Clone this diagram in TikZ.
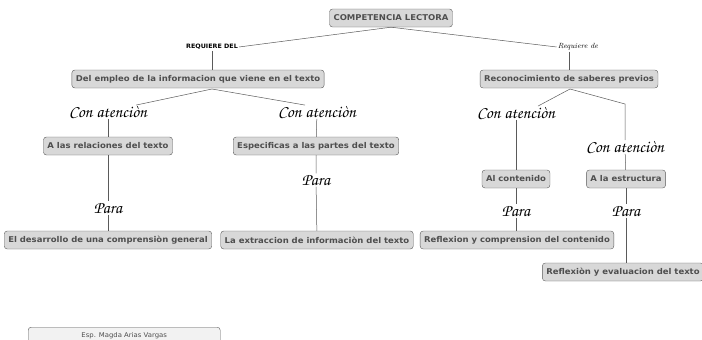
\documentclass[tikz,border=0pt]{standalone}
\usepackage{fontspec}
\setsansfont{DejaVu Sans}
\newfontfamily\largo[FakeStretch=1.06]{DejaVu Sans}
\usepackage{tikz}
\usetikzlibrary{positioning}
\definecolor{grigio}{HTML}{D8D8D8}
\definecolor{bordo}{HTML}{5A5A5A}
\definecolor{testo}{HTML}{4E4E4E}
% corsivo a mano per i connettori
\newcommand{\corsivo}{\fontencoding{T1}\fontfamily{pzc}\fontseries{m}\fontshape{it}\selectfont}

\begin{document}
\begin{tikzpicture}[
  x=1pt, y=-1pt,
  concetto/.style={
    rectangle, draw=bordo, fill=grigio, rounded corners=3pt,
    text=testo, font=\largo\bfseries\fontsize{8}{9}\selectfont,
    minimum height=18pt, inner xsep=4pt, inner ysep=2pt
  },
  legame/.style={font=\corsivo\fontsize{17}{18}\selectfont, inner sep=1pt},
  linea/.style={draw=bordo, line width=0.5pt}
]
\clip (0,0) rectangle (702,340);
% radice
\node[concetto] (radice) at (391,18) {COMPETENCIA LECTORA};
\node[font=\largo\bfseries\fontsize{6}{7}\selectfont, inner sep=1pt] (reqdel) at (212,47) {REQUIERE DEL};
\node[font=\itshape\fontsize{7.5}{8}\selectfont, inner sep=1pt] (reqde) at (578,47) {Requiere de};
% ramo sinistro
\node[concetto] (empleo) at (198,79) {Del empleo de la informacion que viene en el texto};
\node[legame] (ca1) at (108,112) {Con atenci\`on};
\node[legame] (ca2) at (317,112) {Con atenci\`on};
\node[concetto] (relaz) at (108,146) {A las relaciones del texto};
\node[concetto] (partes) at (316,146) {Especificas a las partes del texto};
\node[legame] (p1) at (108,208) {Para};
\node[legame] (p2) at (316,180) {Para};
\node[concetto] (desarr) at (108,240) {El desarrollo de una comprensi\`on general};
\node[concetto] (extrac) at (317,240) {La extraccion de informaci\`on del texto};
% ramo destro
\node[concetto] (saberes) at (569,79) {Reconocimiento de saberes previos};
\node[legame] (ca3) at (516,113) {Con atenci\`on};
\node[legame] (ca4) at (625,147) {Con atenci\`on};
\node[concetto] (conten) at (516,179) {Al contenido};
\node[concetto] (estruc) at (626,179) {A la estructura};
\node[legame] (p3) at (516,211) {Para};
\node[legame] (p4) at (626,211) {Para};
\node[concetto] (reflex) at (517,240) {Reflexion y comprension del contenido};
\node[concetto] (evalua) at (623,272) {Reflexi\`on y evaluacion del texto};
% firma
\node[draw=bordo, fill=gray!10, rounded corners=3pt, minimum width=192pt, minimum height=20pt,
  anchor=north west, font=\largo\fontsize{6.5}{7}\selectfont, text=testo, text depth=5pt] (firma) at (28,327) {Esp. Magda Arias Vargas};

\coordinate (a1) at (212,89);
\coordinate (a2) at (570,89);
\coordinate (k4) at (625,104);
\draw[linea] (radice.south) -- (reqdel.east);
\draw[linea] (radice.south) -- (reqde.west);
\draw[linea] (reqdel) -- (reqdel |- empleo.north);
\draw[linea] (reqde.south -| saberes.north) -- (saberes.north);
\draw[linea] (a1) -- ([xshift=-12pt]ca1.north east);
\draw[linea] (a1) -- ([xshift=-12pt]ca2.north);
\draw[linea] (ca1) -- (relaz);
\draw[linea] (ca2) -- (partes);
\draw[linea] (relaz) -- (p1) -- (desarr);
\draw[linea] (partes) -- (p2) -- (extrac);
\draw[linea] (a2) -- ([xshift=22pt]ca3.north);
\draw[linea] (a2) -- (k4) -- (ca4);
\draw[linea] (ca3) -- (conten);
\draw[linea] (ca4) -- (estruc);
\draw[linea] (conten) -- (p3) -- (reflex.north -| p3);
\draw[linea] (estruc) -- (p4);
\draw[linea] (p4) -- (p4 |- evalua.north);
\end{tikzpicture}
\end{document}
